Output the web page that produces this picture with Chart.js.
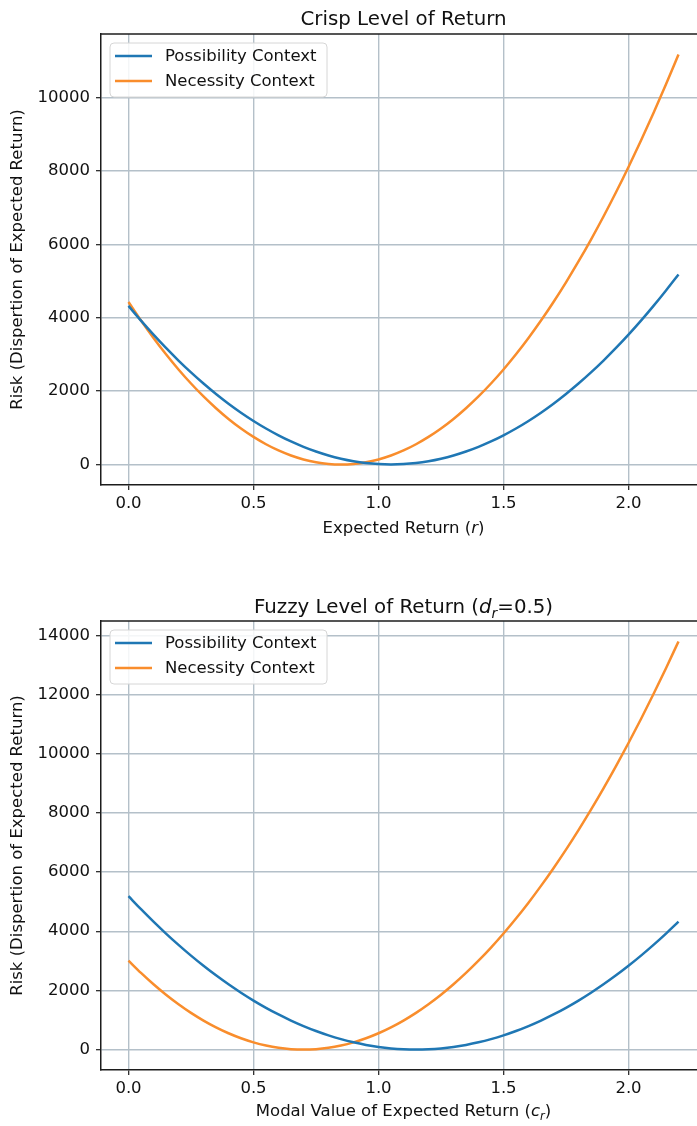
<!DOCTYPE html>
<html><head><meta charset="utf-8">
<script src="https://cdn.jsdelivr.net/npm/chart.js@4"></script>
<style>
html,body{margin:0;padding:0;background:#fff;overflow:hidden;width:697px;height:1126px;position:relative;}
.wrap{position:absolute;left:0;width:712px;}
canvas{display:block;}
</style></head><body>
<div class="wrap" style="top:0;height:560px"><canvas id="c1" width="712" height="560" style="width:712px;height:560px"></canvas></div>
<div class="wrap" style="top:587px;height:539px"><canvas id="c2" width="712" height="539" style="width:712px;height:539px"></canvas></div>
<script>
// ---- data ----
const returnValues = [0, 0.05, 0.1, 0.15, 0.2, 0.25, 0.3, 0.35, 0.4, 0.45, 0.5, 0.55, 0.6, 0.65, 0.7, 0.75, 0.8, 0.85, 0.9, 0.95, 1.0, 1.05, 1.1, 1.15, 1.2, 1.25, 1.3, 1.35, 1.4, 1.45, 1.5, 1.55, 1.6, 1.65, 1.7, 1.75, 1.8, 1.85, 1.9, 1.95, 2.0, 2.05, 2.1, 2.15, 2.2];
const crispPossibility = [4322, 3920, 3538, 3175, 2832, 2509, 2205, 1921, 1656, 1411, 1186, 980, 794, 627, 480, 353, 245, 157, 88, 39, 10, 0, 10, 39, 88, 157, 245, 353, 480, 627, 794, 980, 1186, 1411, 1656, 1921, 2205, 2509, 2832, 3175, 3538, 3920, 4322, 4743, 5180];
const crispNecessity = [4429, 3923, 3448, 3004, 2590, 2207, 1854, 1533, 1241, 981, 751, 552, 383, 245, 138, 61, 15, 0, 15, 61, 138, 245, 383, 552, 751, 981, 1241, 1533, 1854, 2207, 2590, 3004, 3448, 3923, 4429, 4965, 5532, 6130, 6758, 7417, 8107, 8827, 9578, 10360, 11172];
const fuzzyPossibility = [5184, 4743, 4322, 3920, 3538, 3175, 2832, 2509, 2205, 1921, 1656, 1411, 1186, 980, 794, 627, 480, 353, 245, 157, 88, 39, 10, 0, 10, 39, 88, 157, 245, 353, 480, 627, 794, 980, 1186, 1411, 1656, 1921, 2205, 2509, 2832, 3175, 3538, 3920, 4322];
const fuzzyNecessity = [3004, 2590, 2207, 1854, 1533, 1241, 981, 751, 552, 383, 245, 138, 61, 15, 0, 15, 61, 138, 245, 383, 552, 751, 981, 1241, 1533, 1854, 2207, 2590, 3004, 3448, 3923, 4429, 4965, 5532, 6130, 6758, 7417, 8107, 8827, 9578, 10360, 11172, 12015, 12888, 13793];
const xTicks = [0, 0.5, 1.0, 1.5, 2.0];
const xTickLabels = ['0.0', '0.5', '1.0', '1.5', '2.0'];
const crispYTicks = [0, 2000, 4000, 6000, 8000, 10000];
const fuzzyYTicks = [0, 2000, 4000, 6000, 8000, 10000, 12000, 14000];
const seriesLabels = ['Possibility Context', 'Necessity Context'];
const yAxisTitle = 'Risk (Dispertion of Expected Return)';

const BLUE = '#1f77b4';
const ORANGE = '#f98d2c';
const GRID = '#b4c0c9';
const AXIS = '#1c1c1c';
const FAM = '"DejaVu Sans", "Liberation Sans", sans-serif';
const FS = 16.5;

function drawRich(ctx, parts, cx, cy, size) {
  const fonts = parts.map(p => `${p.i ? 'italic ' : ''}${p.sub ? size * 0.7 : size}px ${FAM}`);
  let total = 0;
  const widths = parts.map((p, k) => { ctx.font = fonts[k]; const w = ctx.measureText(p.t).width; total += w; return w; });
  let x = cx - total / 2;
  ctx.textAlign = 'left';
  ctx.textBaseline = 'alphabetic';
  ctx.fillStyle = '#111';
  const base = cy + size * 0.36;
  parts.forEach((p, k) => { ctx.font = fonts[k]; ctx.fillText(p.t, x, base + (p.sub ? size * 0.24 : 0)); x += widths[k]; });
}

const decorPlugin = {
  id: 'decor',
  afterDraw(chart, args, opts) {
    const ctx = chart.ctx;
    const a = chart.chartArea;
    ctx.save();
    // top spine
    ctx.strokeStyle = AXIS;
    ctx.lineWidth = 1.5;
    ctx.beginPath();
    ctx.moveTo(a.left - 0.75, a.top);
    ctx.lineTo(a.right, a.top);
    ctx.stroke();
    // titles
    const cx = (a.left + a.right) / 2;
    drawRich(ctx, opts.title, cx, opts.titleY, 19.8);
    drawRich(ctx, opts.xTitle, cx, opts.xTitleY, FS);
    // legend
    const lx = a.left + 9, ly = a.top + 9, lw = 217, lh = 54, r = 4;
    ctx.beginPath();
    ctx.moveTo(lx + r, ly);
    ctx.arcTo(lx + lw, ly, lx + lw, ly + lh, r);
    ctx.arcTo(lx + lw, ly + lh, lx, ly + lh, r);
    ctx.arcTo(lx, ly + lh, lx, ly, r);
    ctx.arcTo(lx, ly, lx + lw, ly, r);
    ctx.closePath();
    ctx.fillStyle = 'rgba(255,255,255,0.85)';
    ctx.fill();
    ctx.strokeStyle = '#d6d6d6';
    ctx.lineWidth = 1;
    ctx.stroke();
    chart.data.datasets.forEach((ds, k) => {
      const y = a.top + 22 + k * 25;
      ctx.strokeStyle = ds.borderColor;
      ctx.lineWidth = 2.5;
      ctx.beginPath();
      ctx.moveTo(lx + 5, y);
      ctx.lineTo(lx + 42, y);
      ctx.stroke();
      ctx.fillStyle = '#111';
      ctx.font = `${FS}px ${FAM}`;
      ctx.textAlign = 'left';
      ctx.textBaseline = 'middle';
      ctx.fillText(ds.label, lx + 55, y + 1);
    });
    ctx.restore();
  }
};

function makeChart(id, cfg) {
  const tickFont = { family: FAM, size: FS };
  return new Chart(document.getElementById(id), {
    type: 'line',
    data: {
      datasets: [
        { label: seriesLabels[0], data: returnValues.map((x, i) => ({ x, y: cfg.poss[i] })), borderColor: BLUE, backgroundColor: BLUE, borderWidth: 2.5, pointRadius: 0, cubicInterpolationMode: 'monotone', fill: false },
        { label: seriesLabels[1], data: returnValues.map((x, i) => ({ x, y: cfg.nec[i] })), borderColor: ORANGE, backgroundColor: ORANGE, borderWidth: 2.5, pointRadius: 0, cubicInterpolationMode: 'monotone', fill: false }
      ]
    },
    options: {
      responsive: false, animation: false, devicePixelRatio: 1,
      layout: { padding: { top: cfg.plotTop, left: 0, right: 6, bottom: 0 } },
      plugins: {
        legend: { display: false }, title: { display: false }, tooltip: { enabled: false },
        decor: { title: cfg.title, titleY: cfg.titleY, xTitle: cfg.xTitle, xTitleY: cfg.xTitleY }
      },
      scales: {
        x: {
          type: 'linear', min: -0.11, max: 2.31,
          afterBuildTicks: s => { s.ticks = xTicks.map(v => ({ value: v })); },
          afterFit: s => { s.height = cfg.xAxisH; },
          ticks: { callback: (v, i) => xTickLabels[i], font: tickFont, color: '#111', padding: 4, autoSkip: false, maxRotation: 0 },
          grid: { color: GRID, lineWidth: 1.4, tickLength: 5, tickColor: AXIS, tickWidth: 1.2 },
          border: { display: true, color: AXIS, width: 1.5 }
        },
        y: {
          type: 'linear', min: cfg.yMin, max: cfg.yMax,
          afterBuildTicks: s => { s.ticks = cfg.yTicks.map(v => ({ value: v })); },
          afterFit: s => { s.width = 101; },
          ticks: { callback: v => String(v), font: tickFont, color: '#111', padding: 6, autoSkip: false },
          grid: { color: GRID, lineWidth: 1.4, tickLength: 5, tickColor: AXIS, tickWidth: 1.2 },
          border: { display: true, color: AXIS, width: 1.5 },
          title: { display: true, text: yAxisTitle, font: { family: FAM, size: FS }, color: '#111', padding: { top: 8, bottom: 0 } }
        }
      }
    },
    plugins: [decorPlugin]
  });
}

makeChart('c1', {
  poss: crispPossibility, nec: crispNecessity, yTicks: crispYTicks,
  yMin: -559, yMax: 11731, plotTop: 34, xAxisH: 75,
  title: [{ t: 'Crisp Level of Return' }], titleY: 18,
  xTitle: [{ t: 'Expected Return (' }, { t: 'r', i: true }, { t: ')' }], xTitleY: 527
});
makeChart('c2', {
  poss: fuzzyPossibility, nec: fuzzyNecessity, yTicks: fuzzyYTicks,
  yMin: -690, yMax: 14483, plotTop: 34, xAxisH: 56,
  title: [{ t: 'Fuzzy Level of Return (' }, { t: 'd', i: true }, { t: 'r', i: true, sub: true }, { t: '=0.5)' }], titleY: 19,
  xTitle: [{ t: 'Modal Value of Expected Return (' }, { t: 'c', i: true }, { t: 'r', i: true, sub: true }, { t: ')' }], xTitleY: 523
});
</script>
</body></html>
